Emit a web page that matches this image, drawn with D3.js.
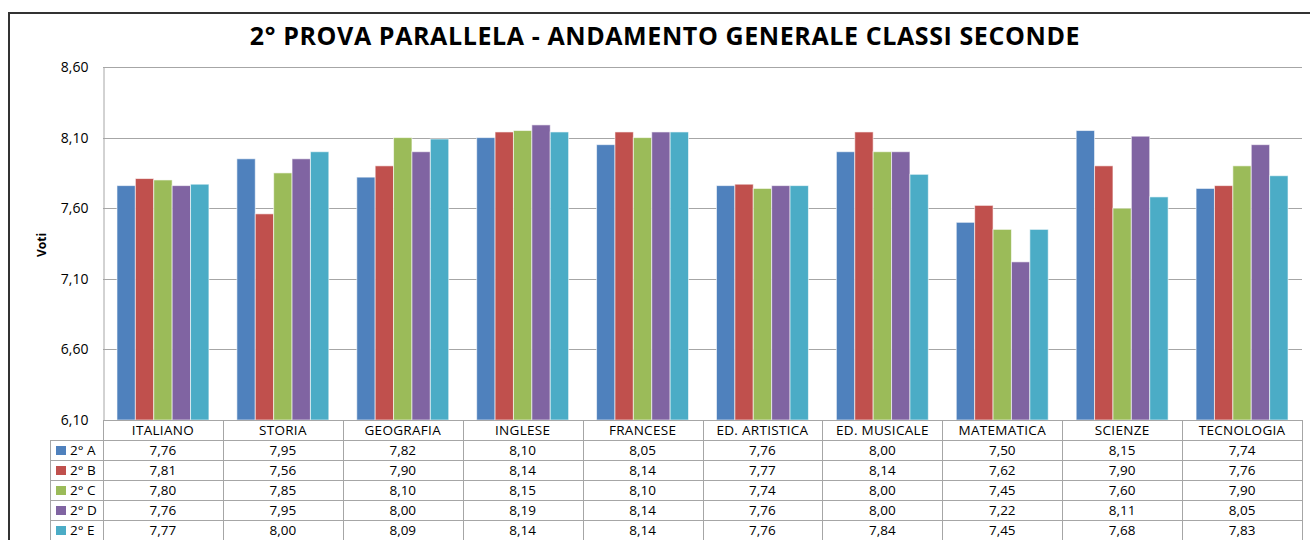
<!DOCTYPE html>
<html lang="it">
<head>
<meta charset="utf-8">
<title>2° prova parallela</title>
<script src="https://cdn.jsdelivr.net/npm/d3@7"></script>
<style>
  body { margin: 0; background: #fff; }
  svg { font-family: "Open Sans", "Lato", sans-serif; }
</style>
</head>
<body>
<script>
// data
var categories = ["ITALIANO", "STORIA", "GEOGRAFIA", "INGLESE", "FRANCESE", "ED. ARTISTICA", "ED. MUSICALE", "MATEMATICA", "SCIENZE", "TECNOLOGIA"];
var seriesNames = ["2° A", "2° B", "2° C", "2° D", "2° E"];
var classA = [7.76, 7.95, 7.82, 8.10, 8.05, 7.76, 8.00, 7.50, 8.15, 7.74];
var classB = [7.81, 7.56, 7.90, 8.14, 8.14, 7.77, 8.14, 7.62, 7.90, 7.76];
var classC = [7.80, 7.85, 8.10, 8.15, 8.10, 7.74, 8.00, 7.45, 7.60, 7.90];
var classD = [7.76, 7.95, 8.00, 8.19, 8.14, 7.76, 8.00, 7.22, 8.11, 8.05];
var classE = [7.77, 8.00, 8.09, 8.14, 8.14, 7.76, 7.84, 7.45, 7.68, 7.83];
var yTicks = [6.10, 6.60, 7.10, 7.60, 8.10, 8.60];
var colors = ["#4F81BD", "#C0504D", "#9BBB59", "#8064A2", "#4BACC6"];

var seriesValues = [classA, classB, classC, classD, classE];

var W = 1310, H = 540;
var pLeft = 103, pRight = 1302, pTop = 67, pBottom = 420;
var rowH = 20;

var svg = d3.select("body").append("svg")
  .attr("width", W).attr("height", H);

svg.append("rect")
  .attr("x", 9).attr("y", 13)
  .attr("width", 1310).attr("height", 540)
  .attr("fill", "#fff").attr("stroke", "#333").attr("stroke-width", 2);

svg.append("text")
  .attr("x", 665).attr("y", 45)
  .attr("text-anchor", "middle")
  .attr("font-size", 25).attr("font-weight", "bold")
  .attr("letter-spacing", 0.6)
  .attr("fill", "#000")
  .text("2° PROVA PARALLELA - ANDAMENTO GENERALE CLASSI SECONDE");

var x0 = d3.scaleBand().domain(categories).range([pLeft, pRight]).paddingInner(0).paddingOuter(0);
var x1 = d3.scaleBand().domain(seriesNames).range([0, x0.bandwidth()]).paddingOuter(0.76).paddingInner(0);
var y = d3.scaleLinear().domain([6.10, 8.60]).range([pBottom, pTop]);

var fmt = function (v) { return d3.format(".2f")(v).replace(".", ","); };

// gridlines
svg.append("g").selectAll("line").data(yTicks).enter().append("line")
  .attr("x1", pLeft).attr("x2", pRight)
  .attr("y1", function (d) { return Math.round(y(d)) + 0.5; })
  .attr("y2", function (d) { return Math.round(y(d)) + 0.5; })
  .attr("stroke", "#a6a6a6").attr("stroke-width", 1);

// y axis
var yAxis = svg.append("g").attr("transform", "translate(" + (pLeft + 0.5) + ",0)")
  .call(d3.axisLeft(y).tickValues(yTicks).tickSize(0).tickPadding(15).tickFormat(fmt));
yAxis.select(".domain").attr("stroke", "#a6a6a6");
yAxis.selectAll("text").attr("font-size", 14).attr("fill", "#000")
  .attr("font-family", "'Open Sans', sans-serif");

svg.append("text")
  .attr("transform", "translate(46,245) rotate(-90)")
  .attr("text-anchor", "middle")
  .attr("font-size", 12).attr("font-weight", "bold")
  .text("Voti");

// bars
var groups = svg.append("g").selectAll("g").data(seriesValues).enter().append("g")
  .attr("fill", function (d, i) { return colors[i]; });

groups.selectAll("rect").data(function (d, i) {
    return d.map(function (v, j) { return { s: seriesNames[i], c: categories[j], v: v }; });
  }).enter().append("rect")
  .attr("x", function (d) { return x0(d.c) + x1(d.s); })
  .attr("width", x1.bandwidth())
  .attr("y", function (d) { return y(d.v); })
  .attr("height", function (d) { return y(6.10) - y(d.v); })
  .attr("stroke", "rgba(255,255,255,0.6)").attr("stroke-width", 1);

// data table
var tableTop = pBottom, nRows = seriesNames.length;
var hdrLeft = 50;
var tbl = svg.append("g");

// header row (category names)
tbl.selectAll("text.cat").data(categories).enter().append("text")
  .attr("class", "cat")
  .attr("x", function (d) { return x0(d) + x0.bandwidth() / 2; })
  .attr("y", tableTop + 15)
  .attr("text-anchor", "middle").attr("font-size", 13.5)
  .attr("letter-spacing", 0.3)
  .text(function (d) { return d; });

// horizontal lines
var hLines = d3.range(nRows + 1).map(function (r) { return tableTop + rowH * (r + 1); });
tbl.selectAll("line.h").data(hLines).enter().append("line")
  .attr("x1", hdrLeft).attr("x2", pRight)
  .attr("y1", function (d) { return d + 0.5; }).attr("y2", function (d) { return d + 0.5; })
  .attr("stroke", "#a6a6a6");
tbl.append("line")
  .attr("x1", pLeft).attr("x2", pRight)
  .attr("y1", tableTop + 0.5).attr("y2", tableTop + 0.5)
  .attr("stroke", "#a6a6a6");

// vertical lines
var vx = categories.map(function (c) { return x0(c); }).concat([pRight]);
tbl.selectAll("line.v").data(vx).enter().append("line")
  .attr("x1", function (d) { return Math.round(d) + 0.5; })
  .attr("x2", function (d) { return Math.round(d) + 0.5; })
  .attr("y1", tableTop).attr("y2", H)
  .attr("stroke", "#a6a6a6");
tbl.append("line")
  .attr("x1", hdrLeft + 0.5).attr("x2", hdrLeft + 0.5)
  .attr("y1", tableTop + rowH).attr("y2", H)
  .attr("stroke", "#a6a6a6");

// row headers with legend keys
var rows = tbl.selectAll("g.row").data(seriesValues).enter().append("g")
  .attr("transform", function (d, i) { return "translate(0," + (tableTop + rowH * (i + 1)) + ")"; });
rows.append("rect")
  .attr("x", 56).attr("y", 6).attr("width", 10).attr("height", 9)
  .attr("fill", function (d, i) { return colors[i]; });
rows.append("text")
  .attr("x", 70).attr("y", 15).attr("font-size", 13.5)
  .text(function (d, i) { return seriesNames[i]; });
rows.selectAll("text.val").data(function (d) { return d; }).enter().append("text")
  .attr("class", "val")
  .attr("x", function (d, j) { return x0(categories[j]) + x0.bandwidth() / 2; })
  .attr("y", 15)
  .attr("text-anchor", "middle").attr("font-size", 13.5)
  .text(function (d) { return fmt(d); });
</script>
</body>
</html>
